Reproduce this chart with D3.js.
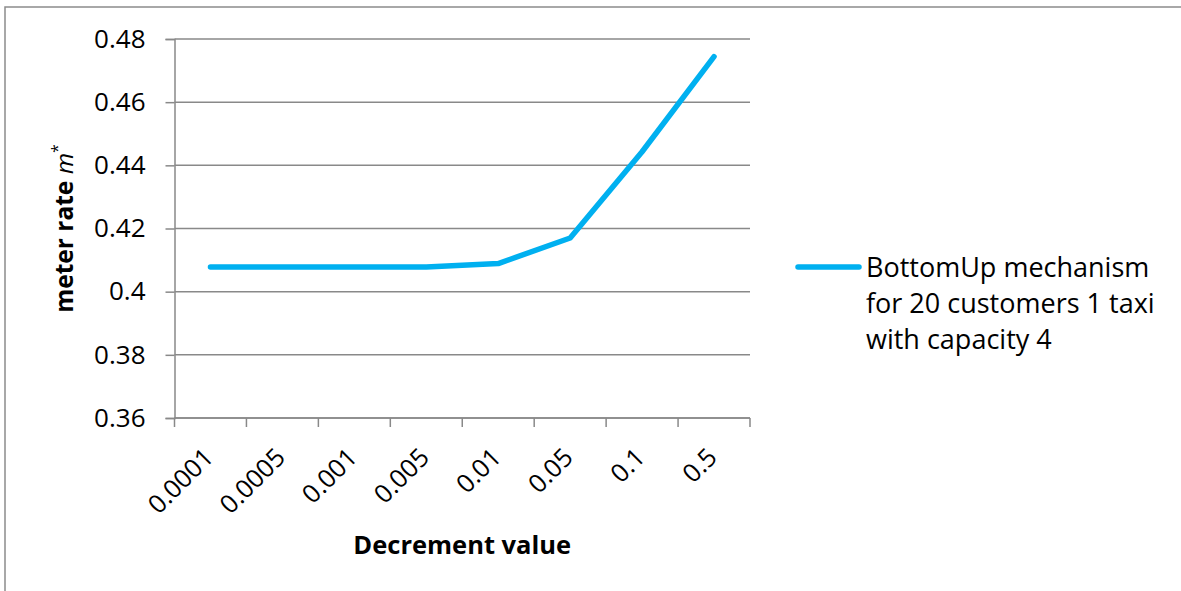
<!DOCTYPE html>
<html>
<head>
<meta charset="utf-8">
<script src="https://cdn.jsdelivr.net/npm/d3@7"></script>
<style>
  html, body { margin: 0; padding: 0; background: #fff; }
  svg { display: block; }
  text { font-family: "Open Sans", "Liberation Sans", sans-serif; fill: #000; }
</style>
</head>
<body>
<svg id="chart" width="1181" height="591"></svg>
<script>
// Decrement values (x categories) and resulting meter rate m*
const categories = ["0.0001", "0.0005", "0.001", "0.005", "0.01", "0.05", "0.1", "0.5"];
const meterRate = [0.4078, 0.4078, 0.4078, 0.4078, 0.4089, 0.417, 0.4443, 0.4744];
const yTicks = [0.36, 0.38, 0.40, 0.42, 0.44, 0.46, 0.48];
const yTickLabels = ["0.36", "0.38", "0.4", "0.42", "0.44", "0.46", "0.48"];
const seriesLabel = ["BottomUp mechanism", "for 20 customers 1 taxi", "with capacity 4"];

const svg = d3.select("#chart");
const plot = { left: 174.5, right: 750, top: 39, bottom: 418 };
const gridColor = "#898989";
const lineColor = "#00B0F0";

// outer chart frame (runs off the right and bottom edges)
svg.append("rect")
  .attr("x", 5).attr("y", 7)
  .attr("width", 1200).attr("height", 600)
  .attr("fill", "none").attr("stroke", "#8c8c8c").attr("stroke-width", 1.5);

const x = d3.scaleBand().domain(categories).range([plot.left, plot.right]).padding(0);
const y = d3.scaleLinear().domain([0.36, 0.48]).range([plot.bottom, plot.top]);

// horizontal gridlines
svg.append("g")
  .selectAll("line")
  .data(yTicks)
  .join("line")
  .attr("x1", plot.left).attr("x2", plot.right)
  .attr("y1", d => y(d)).attr("y2", d => y(d))
  .attr("stroke", gridColor).attr("stroke-width", 1.5);

// y axis
const yAxis = svg.append("g")
  .attr("transform", `translate(${plot.left},0)`)
  .call(d3.axisLeft(y).tickValues(yTicks)
    .tickFormat((d, i) => yTickLabels[i]).tickSize(9).tickPadding(20));
yAxis.select(".domain").attr("stroke", gridColor).attr("stroke-width", 1.5);
yAxis.selectAll(".tick line").attr("stroke", gridColor).attr("stroke-width", 1.5);
yAxis.selectAll(".tick text")
  .attr("font-size", 26).attr("fill", "#000")
  .style("font-family", '"Open Sans", sans-serif');

// x axis with ticks on category boundaries
const xAxisG = svg.append("g").attr("transform", `translate(0,${plot.bottom})`);
xAxisG.append("line")
  .attr("x1", plot.left).attr("x2", plot.right)
  .attr("stroke", gridColor).attr("stroke-width", 1.5);
const boundaries = categories.map(c => x(c)).concat([x(categories[categories.length - 1]) + x.bandwidth()]);
xAxisG.selectAll("line.tick")
  .data(boundaries)
  .join("line")
  .attr("class", "tick")
  .attr("x1", d => d).attr("x2", d => d)
  .attr("y1", 0).attr("y2", 9)
  .attr("stroke", gridColor).attr("stroke-width", 1.5);
xAxisG.selectAll("text.lbl")
  .data(categories)
  .join("text")
  .attr("class", "lbl")
  .attr("text-anchor", "end")
  .attr("font-size", 25.5)
  .attr("transform", d => `translate(${x(d) + x.bandwidth() / 2 + 4.5},${41}) rotate(-45)`)
  .text(d => d);

// series line
const line = d3.line()
  .x((d, i) => x(categories[i]) + x.bandwidth() / 2)
  .y(d => y(d));
svg.append("path")
  .datum(meterRate)
  .attr("d", line)
  .attr("fill", "none")
  .attr("stroke", lineColor)
  .attr("stroke-width", 5.5)
  .attr("stroke-linecap", "round")
  .attr("stroke-linejoin", "round");

// axis titles
svg.append("text")
  .attr("x", (plot.left + plot.right) / 2).attr("y", 554)
  .attr("text-anchor", "middle")
  .attr("font-size", 25.5).attr("font-weight", "bold")
  .text("Decrement value");

const yTitle = svg.append("text")
  .attr("transform", `translate(73,${(plot.top + plot.bottom) / 2}) rotate(-90)`)
  .attr("text-anchor", "middle")
  .attr("font-size", 24.5);
yTitle.append("tspan").attr("font-weight", "bold").text("meter rate ");
yTitle.append("tspan").attr("font-style", "italic").text("m");
yTitle.append("tspan").attr("font-size", 16).attr("dy", -10).text("*");

// legend
const legend = svg.append("g");
legend.append("line")
  .attr("x1", 798).attr("x2", 859)
  .attr("y1", 267).attr("y2", 267)
  .attr("stroke", lineColor).attr("stroke-width", 5.5).attr("stroke-linecap", "round");
legend.selectAll("text")
  .data(seriesLabel)
  .join("text")
  .attr("x", 866)
  .attr("y", (d, i) => 277 + i * 36)
  .attr("font-size", 27)
  .text(d => d);
</script>
</body>
</html>
